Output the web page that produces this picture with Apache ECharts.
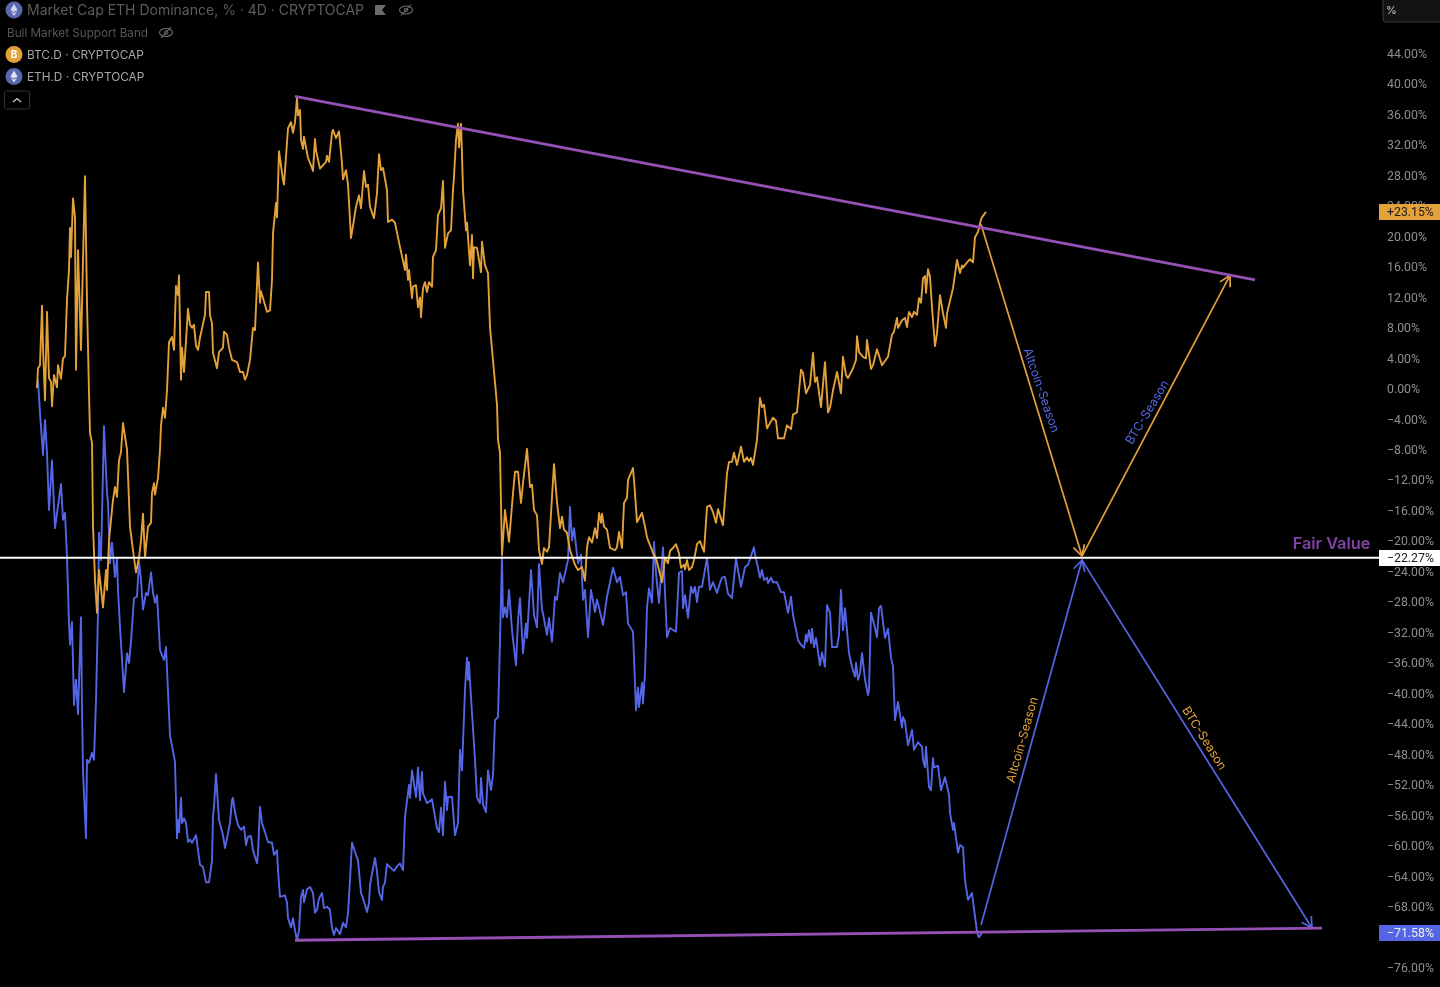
<!DOCTYPE html>
<html lang="en">
<head>
    <meta charset="UTF-8">
    <title>Market Cap ETH Dominance</title>
    <script src="https://cdn.jsdelivr.net/npm/echarts@6/dist/echarts.min.js"></script>
    <style>
        html, body { margin: 0; padding: 0; background: #000; }
        #main { width: 1440px; height: 987px; }
    </style>
</head>
<body>
<div id="main"></div>
<script>
    // [bar, % change]
    var btcPoints = [[37,0],[38,2.6],[40,3],[42,10.8],[43,5.4],[45,-1.6],[47,10],[49,1.3],[51,.8],[52,-2.4],[54,1.7],[57,.1],[58,3],[61,1.2],[63,3.9],[65,4.2],[67,11.6],[69,15.5],[70,21],[71,17.2],[73,24.9],[75,22.4],[76,2.4],[78,18.1],[81,5],[83,16.8],[85,27.8],[87,11.2],[89,-.7],[90,-5.9],[92,-7.2],[93,-18],[95,-25.2],[97,-29.5],[99,-23.9],[101,-26.3],[103,-28.8],[106,-23.9],[107,-26.5],[109,-20],[111,-17.3],[113,-14.7],[115,-13],[117,-14.3],[119,-9.5],[121,-8.4],[123,-4.6],[127,-8.1],[130,-18.2],[133,-21.3],[136,-24.2],[139,-22.3],[141,-20],[143,-16.5],[145,-22.2],[148,-18.2],[151,-17.7],[152,-13.8],[154,-12.5],[155,-14],[158,-11.8],[160,-8.1],[161,-4.9],[163,-2.6],[165,-3.9],[167,-.3],[169,6],[172,6.7],[174,5],[176,13.4],[178,12.2],[179,14.8],[181,1.1],[182,5.3],[184,2.1],[188,10.4],[190,8.3],[192,7.9],[194,8.3],[196,5.6],[198,5],[200,6.6],[202,6.7],[205,9.6],[206,12.6],[209,12.6],[210,9.6],[212,8.5],[213,4.6],[217,2.6],[219,4.7],[223,5.3],[224,7.4],[227,7],[229,5.3],[232,3.7],[237,3.4],[240,2.1],[243,2.1],[245,1.1],[247,1.7],[250,3.7],[251,3.9],[253,7.9],[255,7.6],[258,16.5],[260,11.2],[261,12.7],[263,12.5],[267,10],[270,10.2],[272,14.2],[273,20.3],[276,24.3],[277,22.4],[279,31.1],[283,27.3],[284,26.7],[288,34.1],[291,34.9],[293,33.5],[295,34.9],[297,38.1],[298,35.8],[300,36.5],[301,32.6],[303,31.4],[304,33],[308,30.2],[312,28.9],[313,28.5],[315,32.7],[316,31.2],[318,31.2],[320,28.8],[322,28.6],[326,29.7],[327,30.5],[329,29.7],[332,33.5],[333,33.9],[336,32.8],[338,32.6],[339,33.7],[342,29.5],[343,27.4],[346,28.6],[348,26.7],[351,19.7],[354,22.1],[356,23.8],[358,24],[359,25.3],[361,23.6],[364,28.5],[366,26.4],[368,26.7],[370,23.8],[374,22.3],[375,22.4],[377,25.6],[379,30.7],[381,28.6],[383,28.9],[387,26],[388,21.8],[392,22.1],[395,21.7],[397,21.8],[400,18.5],[405,15.5],[406,17.5],[408,14.2],[409,15.5],[412,11.8],[413,13.3],[416,13.5],[418,10.6],[420,11.9],[421,9.3],[423,13.1],[425,13.9],[427,12.6],[429,13.9],[432,13.3],[433,17.2],[436,18.1],[438,22.7],[441,23.6],[443,27.2],[445,18.4],[448,20.3],[451,20.7],[453,26],[454,27.7],[456,32.6],[458,34.7],[459,31.6],[461,34.7],[462,30.6],[463,26],[466,20.7],[467,21.7],[470,16.1],[472,20.1],[473,14.4],[474,18.5],[477,18.4],[481,15.2],[482,19.2],[485,16.1],[488,15.1],[490,8],[497,-2.2],[498,-6.8],[500,-8.5],[502,-21.9],[505,-16],[509,-20.2],[513,-13.8],[515,-11],[518,-11],[521,-15.1],[523,-12.5],[525,-12.3],[527,-8],[530,-13],[532,-12.7],[534,-16],[537,-16.7],[539,-21.3],[542,-23.1],[544,-21],[547,-21.5],[549,-20.9],[552,-14.3],[554,-10],[557,-15],[558,-15],[560,-18.4],[562,-16.9],[564,-18.6],[567,-19],[570,-21.3],[575,-23.2],[578,-23.9],[582,-23.5],[585,-25.3],[587,-20.9],[589,-19.6],[592,-20.3],[595,-18.4],[597,-19.7],[599,-16.4],[601,-17.7],[602,-16.5],[604,-18.2],[607,-18.6],[610,-21],[615,-21.3],[617,-20.9],[619,-18.9],[622,-21],[624,-15.1],[627,-14.4],[628,-12.1],[633,-10.5],[635,-13.8],[637,-17.6],[639,-17.7],[642,-16.4],[645,-18.2],[647,-19.6],[652,-21.3],[657,-22.8],[662,-25.5],[665,-22.3],[668,-23],[670,-21.4],[673,-21],[676,-20.5],[679,-21.7],[681,-23.6],[684,-23.2],[685,-23.8],[687,-22.6],[689,-23.9],[692,-23.5],[694,-22.6],[697,-20.5],[700,-20.1],[704,-21.5],[707,-15.6],[710,-15.4],[713,-16.3],[716,-17.7],[718,-15.9],[723,-18],[727,-11.2],[729,-9.7],[732,-9.7],[734,-8.5],[737,-10.1],[741,-7.7],[744,-9.7],[747,-9.1],[749,-9.6],[751,-9.2],[753,-10.1],[757,-6.8],[760,-1.3],[762,-2.5],[764,-2.2],[767,-5.3],[769,-5.5],[773,-3.9],[776,-4.3],[778,-6.6],[784,-6.6],[787,-4.9],[791,-5.4],[793,-3.5],[797,-3.2],[801,2.4],[803,2],[806,-.7],[810,.4],[813,4.6],[815,.8],[817,1.4],[821,-2.5],[825,3.4],[828,-3.2],[830,-2.6],[833,-.3],[835,-.3],[837,2.1],[839,2.1],[841,-.7],[843,4.1],[846,1.7],[848,1.3],[853,2.6],[856,3.7],[857,6.8],[859,4.7],[863,4.1],[866,3.9],[867,6.3],[869,6.2],[871,2.5],[873,3],[877,5.1],[879,5],[882,3],[888,4.1],[892,7],[894,7.4],[897,9.2],[898,7.9],[902,8.9],[905,9.2],[907,8],[909,10],[912,9.3],[914,10],[917,9.6],[919,11.8],[921,11.2],[923,14.4],[925,14.7],[926,12.5],[928,15.6],[930,14.6],[932,10.6],[935,5.5],[937,7.2],[940,12.2],[943,9.8],[946,7.9],[947,9.8],[949,9.6],[953,13.1],[955,13.3],[957,16.8],[960,15.1],[962,16.1],[963,15.8],[967,16.5],[970,16.9],[973,16.5],[975,19.8],[978,20.5],[981,22.1],[982,22.4],[983,22.6],[986,23.15]];

    var ethPoints = [[37,0],[38,1],[40,-3.3],[43,-8.8],[45,-4.2],[47,-8.5],[49,-16],[52,-9.5],[55,-18.4],[57,-18.2],[61,-12.6],[63,-17.3],[65,-16.4],[67,-22.2],[68,-26.5],[69,-30.9],[70,-33.7],[72,-30.7],[74,-41.6],[76,-38.3],[78,-42.8],[81,-30.1],[82,-41.9],[83,-50.2],[86,-59.1],[87,-48.8],[89,-49.2],[92,-47.9],[94,-48.8],[96,-41],[98,-29.5],[99,-19],[101,-22.6],[104,-5],[107,-13.8],[108,-15.1],[110,-23],[112,-20.3],[115,-24.8],[117,-22.3],[118,-26.5],[120,-31.4],[124,-39.9],[127,-34.8],[129,-36.1],[131,-33.2],[133,-33.3],[134,-27.6],[137,-27.4],[139,-22.8],[141,-25.2],[143,-29.1],[146,-26.9],[148,-27.2],[151,-24.2],[153,-26.9],[155,-28.2],[157,-27.2],[158,-27.4],[160,-34.4],[164,-35.7],[166,-34],[170,-45.6],[172,-45.8],[175,-49.1],[177,-59.1],[178,-56.7],[179,-58.3],[181,-53.8],[182,-57.1],[184,-56.5],[186,-57.1],[188,-59.6],[190,-59.3],[192,-59.7],[194,-59.6],[196,-58.7],[198,-58.8],[200,-62.6],[203,-62.9],[206,-64.9],[209,-64.9],[212,-62],[213,-56.3],[214,-55],[216,-50.7],[219,-56.7],[223,-58.7],[225,-60.4],[227,-60.4],[230,-57.1],[232,-54.1],[233,-53.8],[235,-55.7],[238,-57.4],[241,-58],[244,-57.6],[246,-60],[248,-58.9],[251,-58.8],[253,-60.7],[257,-62.4],[258,-61],[260,-55],[262,-57.1],[265,-58.3],[268,-59.6],[272,-59.7],[274,-61.3],[277,-60.7],[278,-63.3],[280,-66.8],[282,-67],[285,-66.6],[287,-67.6],[288,-69.6],[291,-70.8],[293,-69.6],[295,-71.2],[297,-72.5],[299,-71.2],[301,-66.8],[303,-65.9],[304,-67.5],[307,-65.8],[310,-65.5],[313,-66.3],[315,-68.9],[317,-68.5],[319,-67],[322,-66.3],[324,-68.3],[327,-68.1],[330,-68.5],[332,-70.9],[334,-71.8],[336,-70.9],[338,-70.9],[340,-71.7],[343,-70.2],[346,-70.8],[348,-68.9],[350,-64.6],[352,-59.7],[354,-59.7],[356,-61.3],[358,-62],[361,-66.3],[363,-67],[367,-68.8],[369,-67.6],[370,-65.2],[375,-61.7],[377,-63.5],[379,-66.2],[382,-67.2],[383,-65.5],[385,-64.9],[387,-62.5],[390,-62.9],[394,-63.4],[397,-62.8],[400,-62.4],[403,-63.3],[405,-56.3],[407,-56.1],[409,-52.1],[410,-53.8],[412,-50.2],[416,-53.7],[418,-49.8],[420,-54.1],[422,-50.4],[423,-53.2],[427,-54.5],[429,-54.7],[432,-54],[434,-54.1],[437,-57.8],[439,-58.3],[441,-55.1],[443,-58.7],[445,-51.7],[447,-55.4],[448,-53.7],[452,-53.7],[455,-58.7],[458,-57.1],[460,-47.5],[462,-50.2],[463,-46.6],[465,-39.6],[467,-35.4],[468,-38.3],[469,-36],[470,-38.5],[472,-42.7],[475,-48.8],[477,-53.8],[480,-54.5],[481,-51.2],[483,-54.7],[486,-55.7],[488,-50.2],[491,-52.8],[493,-50.8],[495,-43.6],[498,-43.2],[499,-38.3],[500,-33.1],[502,-22.2],[503,-30.1],[505,-28.8],[507,-30.1],[509,-26.5],[512,-31.8],[516,-36.4],[518,-30.5],[520,-27.6],[523,-34.8],[526,-30.9],[527,-32.8],[531,-23.9],[534,-29.8],[537,-31.4],[539,-23.1],[542,-29.1],[543,-29.6],[547,-32.4],[549,-30.2],[552,-33.3],[555,-27.4],[557,-27.8],[560,-24.3],[563,-25.5],[568,-22.6],[570,-15.6],[572,-20],[574,-18.4],[578,-23],[581,-21.9],[583,-27.8],[585,-26.5],[588,-32.7],[591,-26.5],[593,-26.4],[595,-29.4],[597,-27.8],[599,-28.8],[603,-31.1],[607,-27.4],[613,-23.6],[617,-25.5],[620,-24.8],[623,-27.2],[626,-26.8],[628,-30.9],[633,-32],[636,-42.3],[638,-39.3],[639,-41.9],[642,-38.7],[643,-41.4],[645,-37.4],[647,-28.8],[649,-26.3],[652,-28.2],[654,-20.2],[656,-24.3],[658,-24.2],[659,-28.2],[663,-20.9],[667,-32.7],[670,-31.5],[676,-32],[679,-24.3],[682,-24],[683,-28.9],[685,-27.2],[688,-30.2],[691,-26.1],[693,-26.9],[695,-26.1],[697,-28.1],[699,-26.1],[702,-26.1],[707,-22.3],[710,-26.5],[713,-25.5],[717,-26.9],[720,-25.6],[722,-24.9],[725,-24.8],[728,-27],[732,-27.6],[736,-22.4],[741,-26.1],[745,-23.5],[748,-23.2],[754,-20.9],[755,-21.9],[757,-23],[760,-24.9],[762,-23.9],[764,-25.2],[767,-24.9],[768,-25.6],[771,-24.9],[773,-25.5],[777,-25.5],[781,-26.8],[784,-26.8],[788,-29.5],[791,-27.4],[793,-29.8],[797,-32.4],[798,-33.1],[801,-33.7],[804,-34.1],[806,-32.4],[807,-33.3],[809,-31.8],[811,-33.5],[812,-31.6],[814,-34],[816,-32.8],[820,-36.4],[822,-34.7],[825,-36.6],[827,-28.5],[830,-29.5],[832,-34],[837,-34],[839,-32.4],[841,-26.5],[843,-31.8],[845,-28.9],[849,-34.8],[852,-36.6],[855,-37.9],[856,-36.1],[858,-38.3],[860,-37.4],[862,-34.8],[865,-38.3],[868,-40.3],[869,-39.6],[871,-29.5],[873,-29.5],[875,-31.5],[877,-32.7],[879,-28.9],[881,-28.6],[885,-32.8],[888,-31.6],[891,-35.4],[893,-36.6],[894,-36.6],[895,-43.6],[898,-41.2],[900,-41.2],[902,-44.6],[903,-43.2],[905,-43.8],[908,-46.9],[912,-44.9],[914,-47.5],[918,-46.5],[922,-47.1],[923,-48.8],[925,-49.8],[926,-47.1],[928,-47.1],[929,-52.4],[931,-52.8],[933,-48.6],[934,-49.8],[938,-49.6],[941,-52.8],[945,-51.1],[949,-53.4],[950,-55.8],[953,-58],[954,-57.1],[958,-61],[960,-60],[963,-60.3],[965,-64.6],[967,-64.5],[968,-67.2],[972,-66.3],[977,-71.4],[979,-72.1],[982,-71.58]];

    var upperTrend = [[295, 38.3], [1255, 14.2]];
    var lowerTrend = [[295, -72.5], [1322, -70.9]];
    var fairValue = -22.27;
    var btcLast = 23.15;
    var ethLast = -71.58;

    // arrows: bar from, % from, bar to, % to
    var btcArrows = [[981, 21.5, 1082, -22.06], [1082, -22.06, 1230, 14.8]];
    var ethArrows = [[981, -70.5, 1082, -22.6], [1082, -22.6, 1312, -70.9]];

    // scale labels covered by the top box or by a price tag
    var hiddenTicks = [48, -72];

    var ORANGE = '#e3a139';
    var BLUE = '#5466e6';
    var PURPLE = '#9450b5';
    var FONT = 'Inter, Roboto, sans-serif';
    var AXIS_FONT = 'Roboto, sans-serif';

    function pctLabel(v) {
        var s = Math.abs(v).toFixed(2) + '%';
        if (v < 0) return '\u2212' + s;
        return s;
    }

    function lineSeries(name, points, color, width, z) {
        return {
            name: name,
            type: 'line',
            data: points,
            symbol: 'none',
            z: z,
            animation: false,
            silent: true,
            lineStyle: {color: color, width: width, join: 'round'}
        };
    }

    function arrowSeries(arrows, color) {
        return {
            type: 'custom',
            data: arrows,
            z: 6,
            clip: false,
            silent: true,
            animation: false,
            encode: {x: [0, 2], y: [1, 3]},
            renderItem: function (params, api) {
                var a = api.coord([api.value(0), api.value(1)]);
                var b = api.coord([api.value(2), api.value(3)]);
                var ang = Math.atan2(b[1] - a[1], b[0] - a[0]);
                var head = 12, spread = 0.5;
                var style = {stroke: color, lineWidth: 1.7, fill: 'none'};
                return {
                    type: 'group',
                    children: [{
                        type: 'line',
                        shape: {x1: a[0], y1: a[1], x2: b[0], y2: b[1]},
                        style: style
                    }, {
                        type: 'polyline',
                        shape: {points: [
                            [b[0] - head * Math.cos(ang - spread), b[1] - head * Math.sin(ang - spread)],
                            b,
                            [b[0] - head * Math.cos(ang + spread), b[1] - head * Math.sin(ang + spread)]
                        ]},
                        style: style
                    }]
                };
            }
        };
    }

    // rotated label sitting at a chart position, rotateDeg > 0 is counter clockwise
    function noteSeries(text, bar, pct, rotateDeg, color, size, weight) {
        return {
            type: 'custom',
            data: [[bar, pct]],
            z: 7,
            clip: false,
            silent: true,
            animation: false,
            renderItem: function (params, api) {
                var p = api.coord([api.value(0), api.value(1)]);
                return {
                    type: 'text',
                    x: p[0],
                    y: p[1],
                    rotation: rotateDeg * Math.PI / 180,
                    style: {
                        text: text,
                        fill: color,
                        font: weight + ' ' + size + 'px ' + FONT,
                        align: 'center',
                        verticalAlign: 'middle'
                    }
                };
            }
        };
    }

    // price tag in the axis column
    function tagSeries(value, bg, fg, label) {
        return {
            type: 'custom',
            data: [[1380, value]],
            z: 20,
            clip: false,
            silent: true,
            animation: false,
            renderItem: function (params, api) {
                var p = api.coord([api.value(0), api.value(1)]);
                return {
                    type: 'group',
                    children: [{
                        type: 'rect',
                        shape: {x: p[0] - 1, y: Math.round(p[1]) - 8, width: 62, height: 16},
                        style: {fill: bg}
                    }, {
                        type: 'text',
                        x: p[0] + 7,
                        y: Math.round(p[1]) + 1,
                        style: {
                            text: label,
                            fill: fg,
                            font: '12.3px ' + AXIS_FONT,
                            verticalAlign: 'middle'
                        }
                    }]
                };
            }
        };
    }

    function eye(cx, cy) {
        var c = '#6e6e6e';
        return [
            {type: 'ellipse', shape: {cx: cx, cy: cy, rx: 6.5, ry: 4}, style: {fill: 'none', stroke: c, lineWidth: 1.1}},
            {type: 'circle', shape: {cx: cx, cy: cy, r: 1.8}, style: {fill: 'none', stroke: c, lineWidth: 1}},
            {type: 'line', shape: {x1: cx - 5, y1: cy + 5.5, x2: cx + 5, y2: cy - 5.5}, style: {stroke: c, lineWidth: 1.1}}
        ];
    }

    function ethIcon(cx, cy, bg, fg) {
        return [
            {type: 'circle', shape: {cx: cx, cy: cy, r: 8.5}, style: {fill: bg}},
            {type: 'polygon', shape: {points: [[cx, cy - 6], [cx + 3.6, cy], [cx, cy + 2], [cx - 3.6, cy]]}, style: {fill: fg}},
            {type: 'polygon', shape: {points: [[cx - 3.4, cy + 1], [cx, cy + 3.2], [cx + 3.4, cy + 1], [cx, cy + 6]]}, style: {fill: fg}}
        ];
    }

    function legendText(text, x, y, size, color) {
        return {type: 'text', x: x, y: y, style: {text: text, fill: color, font: size + 'px ' + FONT, verticalAlign: 'middle'}};
    }

    var graphics = [].concat(
        ethIcon(14, 10, '#5a67ad', '#cfd4ec'),
        [legendText('Market Cap ETH Dominance, % \u00b7 4D \u00b7 CRYPTOCAP', 27, 10.5, 14, '#5c5c5c')],
        [{type: 'polygon', shape: {points: [[375, 5], [386, 5], [382, 10], [386, 15], [375, 15]]}, style: {fill: '#6a6a6a'}}],
        eye(406, 10),
        [legendText('Bull Market Support Band', 7, 33, 11.7, '#555555')],
        eye(166, 32.5),
        [{type: 'circle', shape: {cx: 14, cy: 54.5, r: 8.5}, style: {fill: ORANGE}},
         {type: 'text', x: 14, y: 54.5, style: {text: 'B', fill: '#fff', font: 'bold 10px ' + FONT, align: 'center', verticalAlign: 'middle'}},
         legendText('BTC.D \u00b7 CRYPTOCAP', 27, 55, 11.8, '#a8a8a8')],
        ethIcon(14, 76.5, '#5a67ad', '#dfe2f5'),
        [legendText('ETH.D \u00b7 CRYPTOCAP', 27, 77, 11.8, '#a8a8a8')],
        [{type: 'rect', shape: {x: 4.5, y: 91, width: 25, height: 18, r: 2}, style: {fill: '#000', stroke: '#333', lineWidth: 1}},
         {type: 'polyline', shape: {points: [[13, 102], [17, 98.5], [21, 102]]}, style: {fill: 'none', stroke: '#ccc', lineWidth: 1.3}}],
        [{type: 'rect', shape: {x: 1383, y: -3, width: 60, height: 25, r: 3}, style: {fill: '#121212', stroke: '#3c3c3c', lineWidth: 1}},
         legendText('%', 1386, 11, 11, '#c8c8c8')]
    );

    var chart = echarts.init(document.getElementById('main'));
    chart.setOption({
        backgroundColor: '#000',
        animation: false,
        grid: {left: 0, right: 60, top: 22.4, height: 944.5},
        xAxis: {type: 'value', min: 0, max: 1380, show: false},
        yAxis: {
            type: 'value',
            position: 'right',
            min: -76,
            max: 48,
            interval: 4,
            axisLine: {show: false},
            axisTick: {show: false},
            splitLine: {show: false},
            axisLabel: {
                color: '#8e8e8e',
                fontFamily: AXIS_FONT,
                fontSize: 12.3,
                margin: 7,
                align: 'left',
                // rich padding pushes the text a little below the tick, like the original scale
                rich: {
                    t: {color: '#8e8e8e', fontFamily: AXIS_FONT, fontSize: 12.3, padding: [4, 0, 0, 0]}
                },
                formatter: function (v) {
                    return hiddenTicks.indexOf(v) >= 0 ? '' : '{t|' + pctLabel(v) + '}';
                }
            }
        },
        series: [
            lineSeries('ETH.D', ethPoints, BLUE, 1.9, 2),
            lineSeries('BTC.D', btcPoints, ORANGE, 1.9, 3),
            lineSeries('Fair Value line', [[0, fairValue], [1380, fairValue]], '#ffffff', 2, 5),
            lineSeries('upper', upperTrend, PURPLE, 2.8, 6),
            lineSeries('lower', lowerTrend, PURPLE, 2.8, 6),
            arrowSeries(btcArrows, ORANGE),
            arrowSeries(ethArrows, BLUE),
            noteSeries('Altcoin-Season', 1041, -0.3, -71, BLUE, 12.2, 'normal'),
            noteSeries('BTC-Season', 1147.5, -3.2, 59, BLUE, 12.2, 'normal'),
            noteSeries('Altcoin-Season', 1022.5, -46.2, 74.5, ORANGE, 12.2, 'normal'),
            noteSeries('BTC-Season', 1204, -46, -58, ORANGE, 12.2, 'normal'),
            noteSeries('Fair Value', 1331.5, -20.5, 0, '#8144a6', 16.3, '600'),
            tagSeries(btcLast, ORANGE, '#1c1c1c', '+' + btcLast.toFixed(2) + '%'),
            tagSeries(fairValue, '#ffffff', '#222222', pctLabel(fairValue)),
            tagSeries(ethLast, BLUE, '#f0f0f0', pctLabel(ethLast))
        ],
        graphic: graphics
    });
</script>
</body>
</html>
